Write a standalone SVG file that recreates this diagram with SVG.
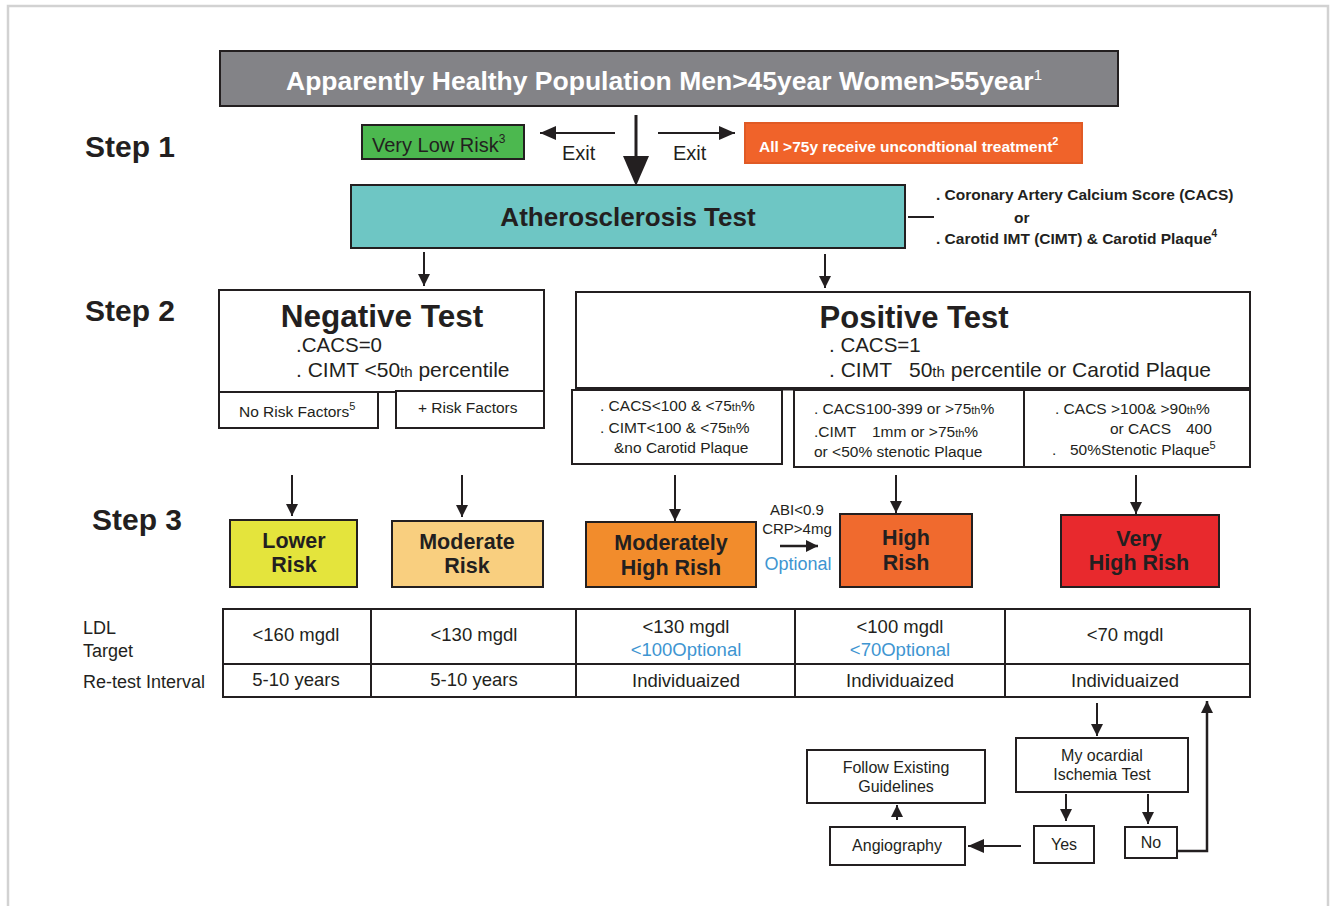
<svg xmlns="http://www.w3.org/2000/svg" width="1330" height="906" viewBox="0 0 1330 906">
<style>
text{font-family:"Liberation Sans",Arial,sans-serif;fill:#231f20}
.b{font-weight:bold}
.box{stroke:#231f20;stroke-width:2}
.ln{stroke:#231f20;stroke-width:2;fill:none}
.blue{fill:#3e95d1}
.c{text-anchor:middle}
.step{font-weight:bold;font-size:30px}
.risk{font-weight:bold;font-size:21.5px;text-anchor:middle}
.tb{font-size:18.5px;text-anchor:middle}
.sub{font-size:15.5px}
.fl{font-size:16px;text-anchor:middle}
</style>
<defs>
<marker id="ah" viewBox="0 0 12 12" refX="12" refY="6" markerWidth="12" markerHeight="12" markerUnits="userSpaceOnUse" orient="auto">
<path d="M0,0 L12,6 L0,12 z" fill="#231f20"/>
</marker>
<marker id="ahL" viewBox="0 0 16 14" refX="16" refY="7" markerWidth="16" markerHeight="14" markerUnits="userSpaceOnUse" orient="auto">
<path d="M0,0 L16,7 L0,14 z" fill="#231f20"/>
</marker>
</defs>
<rect x="0" y="0" width="1330" height="906" fill="#fff"/>
<path d="M8,920 V6 H1328 V920" fill="none" stroke="#d2d2d2" stroke-width="2.5"/>

<g id="labels">
<text x="85" y="157" class="step">Step 1</text>
<text x="85" y="321" class="step">Step 2</text>
<text x="92" y="530" class="step">Step 3</text>
<text x="83" y="634" font-size="18">LDL</text>
<text x="83" y="657" font-size="18">Target</text>
<text x="83" y="688" font-size="18">Re-test Interval</text>
</g>

<g id="population">
<rect x="220" y="51" width="898" height="55" fill="#838387" class="box"/>
<text x="664" y="90" class="b c" font-size="26.5" style="fill:#fff">Apparently Healthy Population Men&gt;45year Women&gt;55year<tspan font-size="15" font-weight="normal" dy="-10" style="fill:#fff">1</tspan></text>
</g>

<g id="verylow">
<rect x="362" y="125" width="162" height="34" fill="#4cb84f" class="box"/>
<text x="372" y="152" font-size="20">Very Low Risk<tspan font-size="12" dy="-9">3</tspan></text>
</g>

<g id="over75">
<rect x="745" y="123" width="337" height="40" fill="#f0632a" class="box" style="stroke:#e05a25"/>
<text x="759" y="152" class="b" font-size="15.5" style="fill:#fff">All &gt;75y receive uncondtional treatment<tspan font-size="11" dy="-7" style="fill:#fff">2</tspan></text>
</g>

<g id="athero">
<rect x="351" y="185" width="554" height="63" fill="#6ec6c4" class="box"/>
<text x="628" y="226" class="b c" font-size="26">Atherosclerosis Test</text>
</g>

<g id="athero-note">
<text x="936" y="200" class="b" font-size="15.5">. Coronary Artery Calcium Score (CACS)</text>
<text x="1014" y="223" class="b" font-size="15.5">or</text>
<text x="936" y="244" class="b" font-size="15.5">. Carotid IMT (CIMT) &amp; Carotid Plaque<tspan font-size="10" dy="-7">4</tspan></text>
</g>

<g id="negative">
<rect x="219" y="290" width="325" height="102" fill="#fff" class="box"/>
<text x="382" y="327" class="b c" font-size="31.5">Negative Test</text>
<text x="296" y="352" font-size="20.5">.CACS=0</text>
<text x="296" y="377" font-size="21">. CIMT &lt;50<tspan font-size="15">th</tspan> percentile</text>
</g>
<g id="norisk">
<rect x="219" y="392" width="159" height="36" fill="#fff" class="box"/>
<text x="239" y="417" font-size="15.5">No Risk Factors<tspan font-size="11" dy="-7">5</tspan></text>
</g>
<g id="plusrisk">
<rect x="396" y="391" width="148" height="37" fill="#fff" class="box"/>
<text x="418" y="413" font-size="15.5">+ Risk Factors</text>
</g>

<g id="positive">
<rect x="576" y="292" width="674" height="96" fill="#fff" class="box"/>
<text x="914" y="328" class="b c" font-size="31">Positive Test</text>
<text x="829" y="352" font-size="20.5">. CACS=1</text>
<text x="829" y="377" font-size="21">. CIMT   <tspan x="909">50</tspan><tspan font-size="15">th</tspan> percentile or Carotid Plaque</text>
</g>
<g id="posA">
<rect x="572" y="390" width="210" height="74" fill="#fff" class="box"/>
<text x="600" y="411" class="sub">. CACS&lt;100 &amp; &lt;75<tspan font-size="11">th</tspan>%</text>
<text x="600" y="433" class="sub">. CIMT&lt;100 &amp; &lt;75<tspan font-size="11">th</tspan>%</text>
<text x="614" y="453" class="sub">&amp;no Carotid Plaque</text>
</g>
<g id="posB">
<rect x="794" y="390" width="230" height="77" fill="#fff" class="box"/>
<text x="814" y="414" class="sub">. CACS100-399 or &gt;75<tspan font-size="11">th</tspan>%</text>
<text x="814" y="437" class="sub">.CIMT <tspan x="872">1mm or &gt;75</tspan><tspan font-size="11">th</tspan>%</text>
<text x="814" y="457" class="sub">or &lt;50% stenotic Plaque</text>
</g>
<g id="posC">
<rect x="1024" y="390" width="226" height="77" fill="#fff" class="box"/>
<text x="1055" y="414" class="sub">. CACS &gt;100&amp; &gt;90<tspan font-size="11">th</tspan>%</text>
<text x="1110" y="434" class="sub">or CACS <tspan x="1186">400</tspan></text>
<text x="1052" y="455" class="sub">. <tspan x="1070">50%Stenotic Plaque</tspan><tspan font-size="11" dy="-6">5</tspan></text>
</g>
<line x1="576" y1="389" x2="1250" y2="389" stroke="#231f20" stroke-width="3"/>

<g id="lower">
<rect x="230" y="520" width="127" height="67" fill="#e4e43c" class="box"/>
<text x="294" y="548" class="risk">Lower</text>
<text x="294" y="572" class="risk">Risk</text>
</g>
<g id="moderate">
<rect x="392" y="521" width="151" height="66" fill="#f9cf7f" class="box"/>
<text x="467" y="549" class="risk">Moderate</text>
<text x="467" y="573" class="risk">Risk</text>
</g>
<g id="modhigh">
<rect x="586" y="522" width="170" height="65" fill="#f28c2c" class="box"/>
<text x="671" y="550" class="risk">Moderately</text>
<text x="671" y="575" class="risk">High Rish</text>
</g>
<g id="high">
<rect x="840" y="514" width="132" height="73" fill="#f06a2e" class="box"/>
<text x="906" y="545" class="risk">High</text>
<text x="906" y="570" class="risk">Rish</text>
</g>
<g id="veryhigh">
<rect x="1061" y="515" width="158" height="72" fill="#e8292d" class="box"/>
<text x="1139" y="546" class="risk">Very</text>
<text x="1139" y="570" class="risk">High Rish</text>
</g>
<g id="abi">
<text x="797" y="515" class="c" font-size="15">ABI&lt;0.9</text>
<text x="797" y="534" class="c" font-size="15">CRP&gt;4mg</text>
<text x="798" y="570" class="c blue" font-size="18">Optional</text>
</g>

<g id="table">
<rect x="223" y="609" width="1027" height="88" fill="#fff" class="box"/>
<line x1="223" y1="664" x2="1250" y2="664" class="ln"/>
<line x1="371" y1="609" x2="371" y2="697" class="ln"/>
<line x1="576" y1="609" x2="576" y2="697" class="ln"/>
<line x1="795" y1="609" x2="795" y2="697" class="ln"/>
<line x1="1005" y1="609" x2="1005" y2="697" class="ln"/>
<text x="296" y="641" class="tb">&lt;160 mgdl</text>
<text x="474" y="641" class="tb">&lt;130 mgdl</text>
<text x="686" y="633" class="tb">&lt;130 mgdl</text>
<text x="686" y="656" class="tb blue">&lt;100Optional</text>
<text x="900" y="633" class="tb">&lt;100 mgdl</text>
<text x="900" y="656" class="tb blue">&lt;70Optional</text>
<text x="1125" y="641" class="tb">&lt;70 mgdl</text>
<text x="296" y="686" class="tb">5-10 years</text>
<text x="474" y="686" class="tb">5-10 years</text>
<text x="686" y="687" class="tb">Individuaized</text>
<text x="900" y="687" class="tb">Individuaized</text>
<text x="1125" y="687" class="tb">Individuaized</text>
</g>

<g id="ischemia">
<rect x="1016" y="738" width="172" height="54" fill="#fff" class="box"/>
<text x="1102" y="761" class="fl">My ocardial</text>
<text x="1102" y="780" class="fl">Ischemia Test</text>
</g>
<g id="yes">
<rect x="1034" y="826" width="60" height="37" fill="#fff" class="box"/>
<text x="1064" y="850" class="fl">Yes</text>
</g>
<g id="no">
<rect x="1125" y="827" width="52" height="31" fill="#fff" class="box"/>
<text x="1151" y="848" class="fl">No</text>
</g>
<g id="angio">
<rect x="830" y="827" width="135" height="38" fill="#fff" class="box"/>
<text x="897" y="851" class="fl">Angiography</text>
</g>
<g id="follow">
<rect x="807" y="750" width="178" height="53" fill="#fff" class="box"/>
<text x="896" y="773" class="fl">Follow Existing</text>
<text x="896" y="792" class="fl">Guidelines</text>
</g>

<g id="connectors">
<line x1="615" y1="133" x2="540" y2="133" class="ln" marker-end="url(#ahL)"/>
<text x="562" y="160" font-size="20">Exit</text>
<line x1="658" y1="133" x2="735" y2="133" class="ln" marker-end="url(#ahL)"/>
<text x="673" y="160" font-size="20">Exit</text>
<line x1="636" y1="115" x2="636" y2="160" stroke="#231f20" stroke-width="3"/>
<path d="M623,156 L649,156 L636,186 z" fill="#231f20"/>
<line x1="908" y1="217" x2="934" y2="217" class="ln"/>
<line x1="424" y1="252" x2="424" y2="286" class="ln" marker-end="url(#ah)"/>
<line x1="825" y1="254" x2="825" y2="288" class="ln" marker-end="url(#ah)"/>
<line x1="292" y1="475" x2="292" y2="516" class="ln" marker-end="url(#ah)"/>
<line x1="462" y1="475" x2="462" y2="517" class="ln" marker-end="url(#ah)"/>
<line x1="675" y1="475" x2="675" y2="521" class="ln" marker-end="url(#ah)"/>
<line x1="896" y1="475" x2="896" y2="513" class="ln" marker-end="url(#ah)"/>
<line x1="1136" y1="475" x2="1136" y2="514" class="ln" marker-end="url(#ah)"/>
<line x1="780" y1="546" x2="818" y2="546" stroke="#231f20" stroke-width="2.5" marker-end="url(#ah)"/>
<line x1="1097" y1="703" x2="1097" y2="736" class="ln" marker-end="url(#ah)"/>
<line x1="1066" y1="794" x2="1066" y2="821" class="ln" marker-end="url(#ah)"/>
<line x1="1148" y1="794" x2="1148" y2="824" class="ln" marker-end="url(#ah)"/>
<polyline points="1177,851 1207,851 1207,701" stroke="#231f20" stroke-width="2.5" fill="none" marker-end="url(#ah)"/>
<line x1="1021" y1="846" x2="968" y2="846" class="ln" marker-end="url(#ahL)"/>
<line x1="897" y1="820" x2="897" y2="805" class="ln" marker-end="url(#ah)"/>
</g>
</svg>
